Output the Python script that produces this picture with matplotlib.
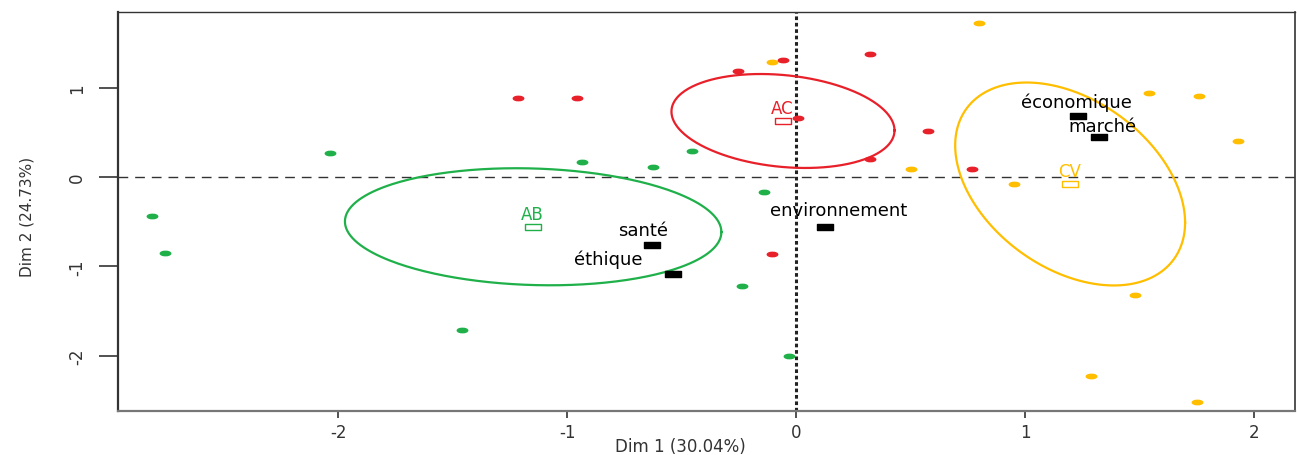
import numpy as np
import matplotlib
matplotlib.use("Agg")
import matplotlib.pyplot as plt
from matplotlib.path import Path
from matplotlib.transforms import Affine2D

# individuals, by group (Dim 1, Dim 2)
ab_x = [-2.034, -2.812, -2.755, -0.936, -0.623, -0.455, -0.14, -1.457, -0.234, -0.03]
ab_y = [0.272, -0.436, -0.849, 0.164, 0.115, 0.29, -0.171, -1.713, -1.214, -1.997]
ac_x = [-1.214, -0.956, -0.252, -0.055, 0.323, 0.01, 0.575, 0.767, -0.103, 0.323]
ac_y = [0.88, 0.88, 1.184, 1.31, 1.38, 0.656, 0.51, 0.09, -0.86, 0.20]
cv_x = [-0.103, 0.80, 1.54, 1.76, 1.93, 0.50, 0.95, 1.48, 1.29, 1.75]
cv_y = [1.288, 1.72, 0.94, 0.905, 0.40, 0.09, -0.08, -1.32, -2.22, -2.51]

# group centroids and confidence ellipses
groups = ["AB", "AC", "CV"]
grp_x = [-1.148, -0.057, 1.197]
grp_y = [-0.556, 0.626, -0.078]
ell_sx = [0.822, 0.487, 0.502]
ell_sy = [0.654, 0.525, 1.134]
ell_r = [-0.09, -0.2, -0.38]

# supplementary categories
sup_names = ["santé", "éthique", "environnement", "économique", "marché"]
sup_x = [-0.630, -0.538, 0.127, 1.231, 1.323]
sup_y = [-0.760, -1.084, -0.555, 0.682, 0.447]

colors = ["#1FB04A", "#E8202A", "#FFBE00"]
# label offsets in pixels (screen, y up)
sup_offsets = [(-9, 15), (-65, 15), (14, 17), (-1, 14), (3, 11)]

dot = Path.unit_circle().transformed(Affine2D().scale(1, 0.42))
rect_open = Path([(-1, -0.4), (1, -0.4), (1, 0.4), (-1, 0.4), (-1, -0.4)],
                 [Path.MOVETO, Path.LINETO, Path.LINETO, Path.LINETO, Path.CLOSEPOLY])
rect_fill = Path([(-1, -0.35), (1, -0.35), (1, 0.35), (-1, 0.35), (-1, -0.35)],
                 [Path.MOVETO, Path.LINETO, Path.LINETO, Path.LINETO, Path.CLOSEPOLY])

fig = plt.figure(figsize=(12.97, 4.56), dpi=100)
ax = fig.add_axes([118 / 1297, 1 - 412 / 456, (1295 - 118) / 1297, (412 - 13) / 456])

ax.axhline(0, color="#333333", lw=1.0, ls=(0, (7, 5)), zorder=1)
ax.axvline(0, color="#222222", lw=2.2, ls=(0, (1.2, 0.9)), zorder=1)

pts = [(ab_x, ab_y), (ac_x, ac_y), (cv_x, cv_y)]
for (xs, ys), c in zip(pts, colors):
    ax.plot(xs, ys, ls="none", marker=dot, ms=7.5, color=c, mec=c, zorder=3)

t = np.linspace(0, 2 * np.pi, 300)
for i, c in enumerate(colors):
    sx, sy, r = ell_sx[i], ell_sy[i], ell_r[i]
    ex = grp_x[i] + sx * np.cos(t)
    ey = grp_y[i] + r * sy * np.cos(t) + sy * np.sqrt(1 - r ** 2) * np.sin(t)
    ax.plot(ex, ey, color=c, lw=1.6, zorder=2)
    ax.plot(grp_x[i], grp_y[i], ls="none", marker=rect_open, ms=12, mfc="none",
            mec=c, mew=1.0, zorder=4)
    ax.annotate(groups[i], (grp_x[i], grp_y[i]), xytext=(-1, 13),
                textcoords="offset pixels", ha="center", va="center",
                color=c, fontsize=12)

ax.plot(sup_x, sup_y, ls="none", marker=rect_fill, ms=11, color="black", zorder=5)
for name, x, y, off in zip(sup_names, sup_x, sup_y, sup_offsets):
    ax.annotate(name, (x, y), xytext=off, textcoords="offset pixels",
                ha="center", va="center", color="black", fontsize=13, zorder=6)

ax.set_xlim(-2.961, 2.179)
ax.set_ylim(-2.615, 1.844)
ax.set_xticks([-2, -1, 0, 1, 2])
ax.set_xticklabels(["-2", "-1", "0", "1", "2"])
ax.set_yticks([-2, -1, 0, 1])
ax.set_yticklabels(["-2", "-1", "0", "1"], rotation=90, va="center")
ax.tick_params(axis="x", length=5, width=1.2, pad=4, labelsize=12, colors="#333333")
ax.tick_params(axis="y", length=14, width=1.2, pad=9, labelsize=12, colors="#333333")

for side in ["left", "bottom", "top", "right"]:
    ax.spines[side].set_color("#333333")
ax.spines["left"].set_linewidth(1.6)
ax.spines["bottom"].set_linewidth(1.6)
ax.spines["bottom"].set_color("#777777")
ax.spines["top"].set_linewidth(1.0)
ax.spines["right"].set_linewidth(1.2)

ax.set_xlabel("Dim 1 (30.04%)", fontsize=12, color="#333333", va="bottom")
ax.xaxis.set_label_coords(0.4775, -0.11)
ax.set_ylabel("Dim 2 (24.73%)", fontsize=11, color="#333333")
ax.yaxis.set_label_coords(-0.071, 0.49)

fig.savefig("out.png", dpi=100)
